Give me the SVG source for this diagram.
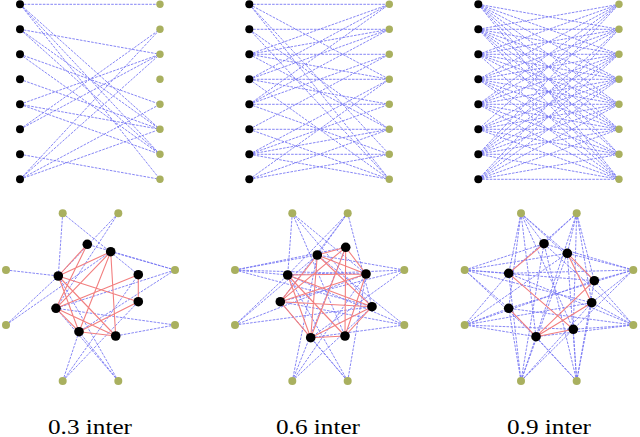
<svg xmlns="http://www.w3.org/2000/svg" width="640" height="437" viewBox="0 0 640 437">
<style>
.e{fill:none;stroke:#7878f4;stroke-width:.9;stroke-dasharray:2.6 1.2}
.r{fill:none;stroke:#f27f7f;stroke-width:1.1}
.k{fill:#000}
.g{fill:#a9b05f}
.lbl{font-family:"Liberation Serif","DejaVu Serif","Times New Roman",serif;font-size:20px;fill:#000}
</style>
<rect width="640" height="437" fill="#fff"/>
<g id="connectors">
<path class="e" d="M20 4.3L160 4.3M20 4.3L160 129.3M20 4.3L160 154.3M20 4.3L160 179.3M20 29.3L160 54.3M20 29.3L160 129.3M20 29.3L160 154.3M20 54.3L160 104.3M20 54.3L160 154.3M20 79.3L160 129.3M20 104.3L160 54.3M20 104.3L160 129.3M20 104.3L160 154.3M20 129.3L160 29.3M20 129.3L160 54.3M20 154.3L160 179.3M20 179.3L160 29.3M20 179.3L160 54.3M20 179.3L160 104.3M20 179.3L160 129.3"/>
<path class="e" d="M249.3 4.3L389.3 4.3M249.3 4.3L389.3 79.3M249.3 4.3L389.3 154.3M249.3 4.3L389.3 179.3M249.3 29.3L389.3 29.3M249.3 29.3L389.3 129.3M249.3 29.3L389.3 179.3M249.3 54.3L389.3 4.3M249.3 54.3L389.3 29.3M249.3 54.3L389.3 54.3M249.3 54.3L389.3 79.3M249.3 54.3L389.3 129.3M249.3 79.3L389.3 4.3M249.3 79.3L389.3 29.3M249.3 79.3L389.3 79.3M249.3 79.3L389.3 104.3M249.3 79.3L389.3 179.3M249.3 104.3L389.3 4.3M249.3 104.3L389.3 29.3M249.3 104.3L389.3 54.3M249.3 104.3L389.3 104.3M249.3 104.3L389.3 154.3M249.3 129.3L389.3 54.3M249.3 129.3L389.3 129.3M249.3 129.3L389.3 179.3M249.3 154.3L389.3 79.3M249.3 154.3L389.3 104.3M249.3 154.3L389.3 129.3M249.3 154.3L389.3 154.3M249.3 154.3L389.3 179.3M249.3 179.3L389.3 79.3M249.3 179.3L389.3 129.3M249.3 179.3L389.3 154.3"/>
<path class="e" d="M478.3 4.3L619 29.3M478.3 4.3L619 54.3M478.3 4.3L619 79.3M478.3 4.3L619 104.3M478.3 4.3L619 129.3M478.3 4.3L619 154.3M478.3 4.3L619 179.3
M478.3 29.3L619 4.3M478.3 29.3L619 29.3M478.3 29.3L619 54.3M478.3 29.3L619 79.3M478.3 29.3L619 104.3M478.3 29.3L619 129.3M478.3 29.3L619 154.3M478.3 29.3L619 179.3
M478.3 54.3L619 4.3M478.3 54.3L619 29.3M478.3 54.3L619 54.3M478.3 54.3L619 79.3M478.3 54.3L619 104.3M478.3 54.3L619 129.3M478.3 54.3L619 179.3
M478.3 79.3L619 4.3M478.3 79.3L619 29.3M478.3 79.3L619 54.3M478.3 79.3L619 79.3M478.3 79.3L619 104.3M478.3 79.3L619 129.3M478.3 79.3L619 154.3M478.3 79.3L619 179.3
M478.3 104.3L619 4.3M478.3 104.3L619 29.3M478.3 104.3L619 54.3M478.3 104.3L619 79.3M478.3 104.3L619 104.3M478.3 104.3L619 129.3M478.3 104.3L619 154.3M478.3 104.3L619 179.3
M478.3 129.3L619 4.3M478.3 129.3L619 54.3M478.3 129.3L619 79.3M478.3 129.3L619 104.3M478.3 129.3L619 129.3M478.3 129.3L619 154.3M478.3 129.3L619 179.3
M478.3 154.3L619 4.3M478.3 154.3L619 29.3M478.3 154.3L619 54.3M478.3 154.3L619 79.3M478.3 154.3L619 104.3M478.3 154.3L619 129.3M478.3 154.3L619 154.3M478.3 154.3L619 179.3
M478.3 179.3L619 29.3M478.3 179.3L619 54.3M478.3 179.3L619 79.3M478.3 179.3L619 104.3M478.3 179.3L619 129.3M478.3 179.3L619 154.3M478.3 179.3L619 179.3"/>
<path class="e" d="M62.7 213.3L58.3 276M62.7 213.3L138.3 274.7M118.3 213.3L58.3 276M118.3 213.3L56 308.3M6 270L58.3 276M175 270L87.3 244.3M175 270L110.7 251.7M175 270L56 308.3M175 270L79 331.7M6 325L58.3 276M6 325L110.7 251.7M175 325L56 308.3M175 325L115.7 336M62.7 381L79 331.7M62.7 381L138.3 301.7M62.7 381L138.3 274.7M118.3 381L56 308.3M118.3 381L58.3 276M118.3 381L79 331.7"/>
<path class="r" d="M87.3 244.3L58.3 276M87.3 244.3L56 308.3M110.7 251.7L58.3 276M110.7 251.7L56 308.3M110.7 251.7L79 331.7M110.7 251.7L115.7 336M58.3 276L138.3 301.7M58.3 276L79 331.7M138.3 274.7L56 308.3M138.3 274.7L138.3 301.7M56 308.3L79 331.7M56 308.3L115.7 336M79 331.7L115.7 336M138.3 301.7L79 331.7M58.3 276L115.7 336"/>
<path class="e" d="M292.3 213.3L287.7 275M292.3 213.3L366 274M292.3 213.3L372 306.7M292.3 213.3L345 336
M347.7 213.3L317.3 255M347.7 213.3L287.7 275M347.7 213.3L280.3 301.7M347.7 213.3L372 306.7
M235 270L317.3 255M235 270L345.7 247.3M235 270L287.7 275M235 270L366 274M235 270L372 306.7
M404.3 270L317.3 255M404.3 270L287.7 275M404.3 270L280.3 301.7M404.3 270L310.7 337.7
M235 325L317.3 255M235 325L287.7 275M235 325L366 274M235 325L372 306.7
M404.3 325L317.3 255M404.3 325L287.7 275M404.3 325L280.3 301.7M404.3 325L310.7 337.7
M292.3 381L317.3 255M292.3 381L345.7 247.3M292.3 381L366 274M292.3 381L372 306.7
M347.7 381L287.7 275M347.7 381L366 274M347.7 381L280.3 301.7M347.7 381L310.7 337.7"/>
<path class="r" d="M317.3 255L345.7 247.3M317.3 255L366 274M317.3 255L372 306.7M317.3 255L310.7 337.7M345.7 247.3L366 274M345.7 247.3L280.3 301.7M345.7 247.3L310.7 337.7M345.7 247.3L345 336M287.7 275L366 274M287.7 275L372 306.7M287.7 275L310.7 337.7M366 274L280.3 301.7M366 274L345 336M280.3 301.7L372 306.7M280.3 301.7L310.7 337.7M372 306.7L310.7 337.7M372 306.7L345 336M310.7 337.7L345 336M317.3 255L280.3 301.7M287.7 275L345 336"/>
<path class="e" d="M521 213.3L544 243.7M521 213.3L567.3 253.3M521 213.3L508.7 273.3M521 213.3L594.3 280.7M521 213.3L508.7 308.3M521 213.3L573.3 329.3M521 213.3L536 336.7
M576.7 213.3L544 243.7M576.7 213.3L567.3 253.3M576.7 213.3L508.7 273.3M576.7 213.3L594.3 280.7M576.7 213.3L591.7 302.7M576.7 213.3L573.3 329.3M576.7 213.3L536 336.7
M464.7 270L544 243.7M464.7 270L567.3 253.3M464.7 270L508.7 273.3M464.7 270L594.3 280.7M464.7 270L508.7 308.3M464.7 270L591.7 302.7M464.7 270L536 336.7
M633.3 270L544 243.7M633.3 270L567.3 253.3M633.3 270L508.7 273.3M633.3 270L594.3 280.7M633.3 270L508.7 308.3M633.3 270L591.7 302.7M633.3 270L573.3 329.3
M464.7 325L567.3 253.3M464.7 325L508.7 273.3M464.7 325L594.3 280.7M464.7 325L508.7 308.3M464.7 325L591.7 302.7M464.7 325L573.3 329.3M464.7 325L536 336.7
M633.3 325L544 243.7M633.3 325L508.7 273.3M633.3 325L594.3 280.7M633.3 325L508.7 308.3M633.3 325L591.7 302.7M633.3 325L573.3 329.3M633.3 325L536 336.7
M521 381L544 243.7M521 381L567.3 253.3M521 381L508.7 273.3M521 381L508.7 308.3M521 381L591.7 302.7M521 381L573.3 329.3M521 381L536 336.7
M576.7 381L544 243.7M576.7 381L567.3 253.3M576.7 381L594.3 280.7M576.7 381L508.7 308.3M576.7 381L591.7 302.7M576.7 381L573.3 329.3M576.7 381L536 336.7"/>
<path class="r" d="M544 243.7L508.7 273.3M508.7 273.3L573.3 329.3M567.3 253.3L591.7 302.7M508.7 308.3L536 336.7M536 336.7L591.7 302.7M536 336.7L594.3 280.7M536 336.7L573.3 329.3M567.3 253.3L594.3 280.7"/>
</g>
<g id="t1k0"><circle class="k" cx="20" cy="4.3" r="4"/></g>
<g id="t1k1"><circle class="k" cx="20" cy="29.3" r="4"/></g>
<g id="t1k2"><circle class="k" cx="20" cy="54.3" r="4"/></g>
<g id="t1k3"><circle class="k" cx="20" cy="79.3" r="4"/></g>
<g id="t1k4"><circle class="k" cx="20" cy="104.3" r="4"/></g>
<g id="t1k5"><circle class="k" cx="20" cy="129.3" r="4"/></g>
<g id="t1k6"><circle class="k" cx="20" cy="154.3" r="4"/></g>
<g id="t1k7"><circle class="k" cx="20" cy="179.3" r="4"/></g>
<g id="t1g0"><circle class="g" cx="160" cy="4.3" r="3.7"/></g>
<g id="t1g1"><circle class="g" cx="160" cy="29.3" r="3.7"/></g>
<g id="t1g2"><circle class="g" cx="160" cy="54.3" r="3.7"/></g>
<g id="t1g3"><circle class="g" cx="160" cy="79.3" r="3.7"/></g>
<g id="t1g4"><circle class="g" cx="160" cy="104.3" r="3.7"/></g>
<g id="t1g5"><circle class="g" cx="160" cy="129.3" r="3.7"/></g>
<g id="t1g6"><circle class="g" cx="160" cy="154.3" r="3.7"/></g>
<g id="t1g7"><circle class="g" cx="160" cy="179.3" r="3.7"/></g>
<g id="t2k0"><circle class="k" cx="249.3" cy="4.3" r="4"/></g>
<g id="t2k1"><circle class="k" cx="249.3" cy="29.3" r="4"/></g>
<g id="t2k2"><circle class="k" cx="249.3" cy="54.3" r="4"/></g>
<g id="t2k3"><circle class="k" cx="249.3" cy="79.3" r="4"/></g>
<g id="t2k4"><circle class="k" cx="249.3" cy="104.3" r="4"/></g>
<g id="t2k5"><circle class="k" cx="249.3" cy="129.3" r="4"/></g>
<g id="t2k6"><circle class="k" cx="249.3" cy="154.3" r="4"/></g>
<g id="t2k7"><circle class="k" cx="249.3" cy="179.3" r="4"/></g>
<g id="t2g0"><circle class="g" cx="389.3" cy="4.3" r="3.7"/></g>
<g id="t2g1"><circle class="g" cx="389.3" cy="29.3" r="3.7"/></g>
<g id="t2g2"><circle class="g" cx="389.3" cy="54.3" r="3.7"/></g>
<g id="t2g3"><circle class="g" cx="389.3" cy="79.3" r="3.7"/></g>
<g id="t2g4"><circle class="g" cx="389.3" cy="104.3" r="3.7"/></g>
<g id="t2g5"><circle class="g" cx="389.3" cy="129.3" r="3.7"/></g>
<g id="t2g6"><circle class="g" cx="389.3" cy="154.3" r="3.7"/></g>
<g id="t2g7"><circle class="g" cx="389.3" cy="179.3" r="3.7"/></g>
<g id="t3k0"><circle class="k" cx="478.3" cy="4.3" r="4"/></g>
<g id="t3k1"><circle class="k" cx="478.3" cy="29.3" r="4"/></g>
<g id="t3k2"><circle class="k" cx="478.3" cy="54.3" r="4"/></g>
<g id="t3k3"><circle class="k" cx="478.3" cy="79.3" r="4"/></g>
<g id="t3k4"><circle class="k" cx="478.3" cy="104.3" r="4"/></g>
<g id="t3k5"><circle class="k" cx="478.3" cy="129.3" r="4"/></g>
<g id="t3k6"><circle class="k" cx="478.3" cy="154.3" r="4"/></g>
<g id="t3k7"><circle class="k" cx="478.3" cy="179.3" r="4"/></g>
<g id="t3g0"><circle class="g" cx="619" cy="4.3" r="3.7"/></g>
<g id="t3g1"><circle class="g" cx="619" cy="29.3" r="3.7"/></g>
<g id="t3g2"><circle class="g" cx="619" cy="54.3" r="3.7"/></g>
<g id="t3g3"><circle class="g" cx="619" cy="79.3" r="3.7"/></g>
<g id="t3g4"><circle class="g" cx="619" cy="104.3" r="3.7"/></g>
<g id="t3g5"><circle class="g" cx="619" cy="129.3" r="3.7"/></g>
<g id="t3g6"><circle class="g" cx="619" cy="154.3" r="3.7"/></g>
<g id="t3g7"><circle class="g" cx="619" cy="179.3" r="3.7"/></g>
<g id="b1gA"><circle class="g" cx="62.7" cy="213.3" r="4"/></g>
<g id="b1gB"><circle class="g" cx="118.3" cy="213.3" r="4"/></g>
<g id="b1gC"><circle class="g" cx="6" cy="270" r="4"/></g>
<g id="b1gD"><circle class="g" cx="175" cy="270" r="4"/></g>
<g id="b1gE"><circle class="g" cx="6" cy="325" r="4"/></g>
<g id="b1gF"><circle class="g" cx="175" cy="325" r="4"/></g>
<g id="b1gG"><circle class="g" cx="62.7" cy="381" r="4"/></g>
<g id="b1gH"><circle class="g" cx="118.3" cy="381" r="4"/></g>
<g id="b1k1"><circle class="k" cx="87.3" cy="244.3" r="4.8"/></g>
<g id="b1k2"><circle class="k" cx="110.7" cy="251.7" r="4.8"/></g>
<g id="b1k3"><circle class="k" cx="58.3" cy="276" r="4.8"/></g>
<g id="b1k4"><circle class="k" cx="138.3" cy="274.7" r="4.8"/></g>
<g id="b1k5"><circle class="k" cx="56" cy="308.3" r="4.8"/></g>
<g id="b1k6"><circle class="k" cx="138.3" cy="301.7" r="4.8"/></g>
<g id="b1k7"><circle class="k" cx="79" cy="331.7" r="4.8"/></g>
<g id="b1k8"><circle class="k" cx="115.7" cy="336" r="4.8"/></g>
<g id="b2gA"><circle class="g" cx="292.3" cy="213.3" r="4"/></g>
<g id="b2gB"><circle class="g" cx="347.7" cy="213.3" r="4"/></g>
<g id="b2gC"><circle class="g" cx="235" cy="270" r="4"/></g>
<g id="b2gD"><circle class="g" cx="404.3" cy="270" r="4"/></g>
<g id="b2gE"><circle class="g" cx="235" cy="325" r="4"/></g>
<g id="b2gF"><circle class="g" cx="404.3" cy="325" r="4"/></g>
<g id="b2gG"><circle class="g" cx="292.3" cy="381" r="4"/></g>
<g id="b2gH"><circle class="g" cx="347.7" cy="381" r="4"/></g>
<g id="b2k1"><circle class="k" cx="317.3" cy="255" r="4.8"/></g>
<g id="b2k2"><circle class="k" cx="345.7" cy="247.3" r="4.8"/></g>
<g id="b2k3"><circle class="k" cx="287.7" cy="275" r="4.8"/></g>
<g id="b2k4"><circle class="k" cx="366" cy="274" r="4.8"/></g>
<g id="b2k5"><circle class="k" cx="280.3" cy="301.7" r="4.8"/></g>
<g id="b2k6"><circle class="k" cx="372" cy="306.7" r="4.8"/></g>
<g id="b2k7"><circle class="k" cx="310.7" cy="337.7" r="4.8"/></g>
<g id="b2k8"><circle class="k" cx="345" cy="336" r="4.8"/></g>
<g id="b3gA"><circle class="g" cx="521" cy="213.3" r="4"/></g>
<g id="b3gB"><circle class="g" cx="576.7" cy="213.3" r="4"/></g>
<g id="b3gC"><circle class="g" cx="464.7" cy="270" r="4"/></g>
<g id="b3gD"><circle class="g" cx="633.3" cy="270" r="4"/></g>
<g id="b3gE"><circle class="g" cx="464.7" cy="325" r="4"/></g>
<g id="b3gF"><circle class="g" cx="633.3" cy="325" r="4"/></g>
<g id="b3gG"><circle class="g" cx="521" cy="381" r="4"/></g>
<g id="b3gH"><circle class="g" cx="576.7" cy="381" r="4"/></g>
<g id="b3k1"><circle class="k" cx="544" cy="243.7" r="4.8"/></g>
<g id="b3k2"><circle class="k" cx="567.3" cy="253.3" r="4.8"/></g>
<g id="b3k3"><circle class="k" cx="508.7" cy="273.3" r="4.8"/></g>
<g id="b3k4"><circle class="k" cx="594.3" cy="280.7" r="4.8"/></g>
<g id="b3k5"><circle class="k" cx="508.7" cy="308.3" r="4.8"/></g>
<g id="b3k6"><circle class="k" cx="591.7" cy="302.7" r="4.8"/></g>
<g id="b3k7"><circle class="k" cx="573.3" cy="329.3" r="4.8"/></g>
<g id="b3k8"><circle class="k" cx="536" cy="336.7" r="4.8"/></g>
<g id="label1"><text class="lbl" font-family="Liberation Serif, DejaVu Serif, serif" x="90" y="434" text-anchor="middle" textLength="84" lengthAdjust="spacingAndGlyphs">0.3 inter</text></g>
<g id="label2"><text class="lbl" font-family="Liberation Serif, DejaVu Serif, serif" x="318" y="434" text-anchor="middle" textLength="84" lengthAdjust="spacingAndGlyphs">0.6 inter</text></g>
<g id="label3"><text class="lbl" font-family="Liberation Serif, DejaVu Serif, serif" x="549" y="434" text-anchor="middle" textLength="84" lengthAdjust="spacingAndGlyphs">0.9 inter</text></g>
</svg>
